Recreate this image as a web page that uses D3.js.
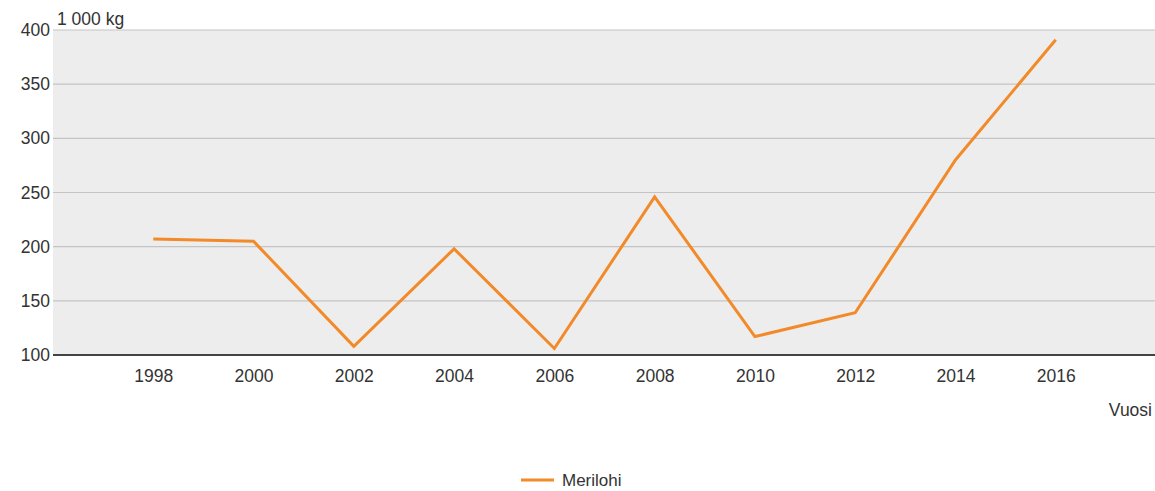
<!DOCTYPE html>
<html><head><meta charset="utf-8">
<script src="https://cdn.jsdelivr.net/npm/d3@7"></script>
<style>body{margin:0;background:#fff;font-family:"Liberation Sans",Arial,sans-serif}</style>
</head><body>
<svg id="c" width="1155" height="491"></svg>
<script>
const years = [1998, 2000, 2002, 2004, 2006, 2008, 2010, 2012, 2014, 2016];
const merilohi = [207, 205, 108, 198, 106, 246, 117, 139, 280, 391];
const yTicks = [100, 150, 200, 250, 300, 350, 400];
const seriesName = "Merilohi";
const yUnit = "1 000 kg";
const xTitle = "Vuosi";

const svg = d3.select("#c");
const L = 53, R = 1156, T = 30, B = 355;
const x = d3.scaleLinear().domain([1996, 2018]).range([L, R]);
const y = d3.scaleLinear().domain([100, 400]).range([B, T]);
const col = "#f28a2a";
const FS = 17.5;

svg.append("rect").attr("x", L).attr("y", T).attr("width", R - L).attr("height", B - T).attr("fill", "#ededed");

svg.append("g").selectAll("line").data(yTicks.filter(d => d > 100)).join("line")
  .attr("x1", L).attr("x2", R).attr("y1", d => y(d)).attr("y2", d => y(d))
  .attr("stroke", "#c4c4c4").attr("stroke-width", 1.2);

const ya = svg.append("g").attr("transform", `translate(${L},0)`)
  .call(d3.axisLeft(y).tickValues(yTicks).tickSize(0).tickPadding(3).tickFormat(d3.format("d")));
ya.select(".domain").remove();
ya.selectAll("text").attr("font-size", FS).attr("fill", "#333").attr("font-family", "Liberation Sans, Arial, sans-serif");

const xa = svg.append("g").attr("transform", `translate(0,${B})`)
  .call(d3.axisBottom(x).tickValues(years).tickSize(0).tickPadding(15).tickFormat(d3.format("d")));
xa.select(".domain").remove();
xa.selectAll("text").attr("font-size", FS).attr("fill", "#333").attr("font-family", "Liberation Sans, Arial, sans-serif");

svg.append("line").attr("x1", L).attr("x2", R).attr("y1", B).attr("y2", B).attr("stroke", "#444").attr("stroke-width", 2);

const line = d3.line().x((d, i) => x(years[i])).y(d => y(d));
svg.append("path").datum(merilohi).attr("d", line).attr("fill", "none")
  .attr("stroke", col).attr("stroke-width", 3).attr("stroke-linejoin", "miter");

svg.append("text").attr("x", 57).attr("y", 25).text(yUnit).attr("font-size", FS).attr("fill", "#333");
svg.append("text").attr("x", 1152).attr("y", 416).attr("text-anchor", "end").text(xTitle).attr("font-size", FS).attr("fill", "#333");

svg.append("line").attr("x1", 521).attr("x2", 554).attr("y1", 480).attr("y2", 480).attr("stroke", col).attr("stroke-width", 3);
svg.append("text").attr("x", 562).attr("y", 486).text(seriesName).attr("font-size", 17).attr("fill", "#333");
</script>
</body></html>
